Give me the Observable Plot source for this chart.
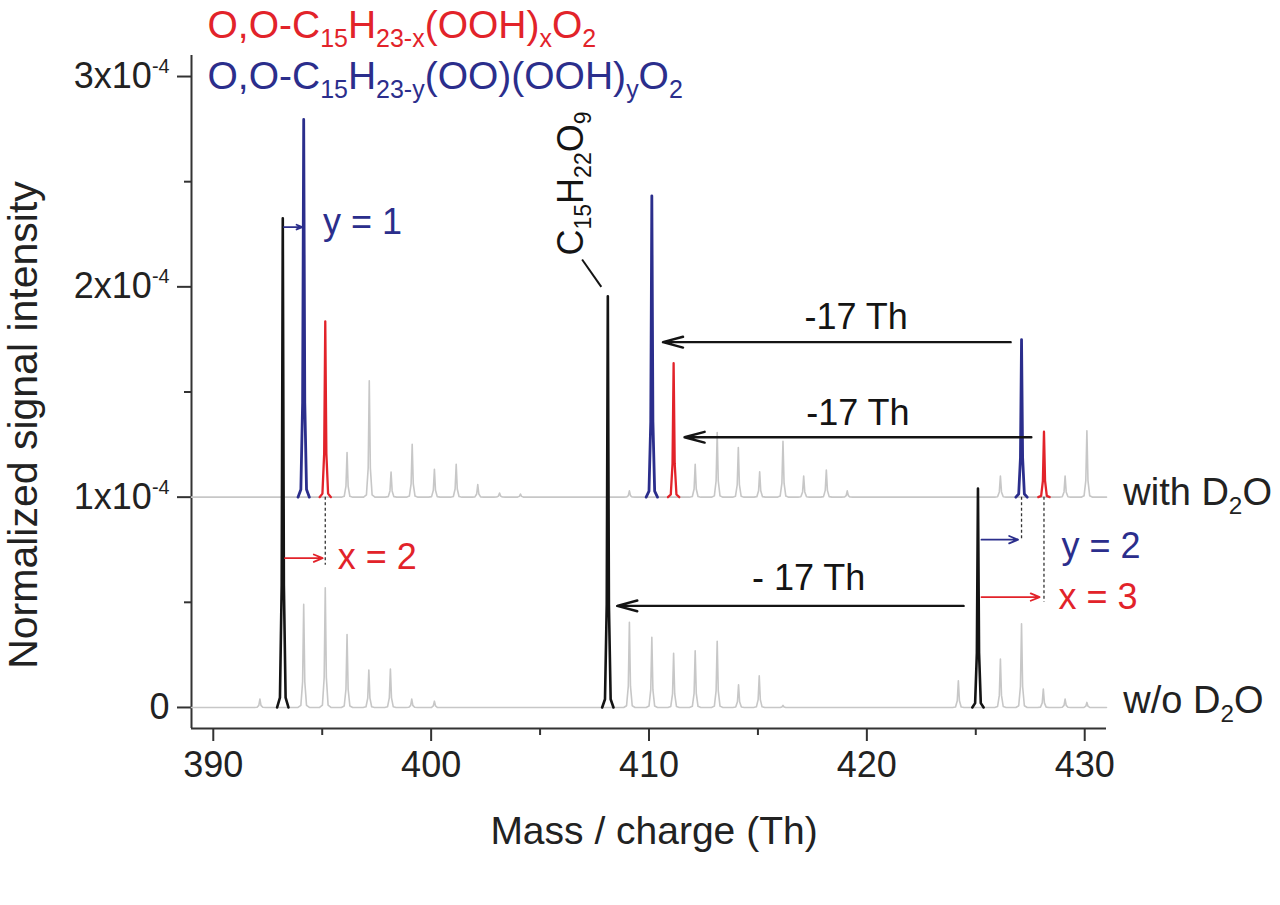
<!DOCTYPE html>
<html>
<head>
<meta charset="utf-8">
<script src="https://cdn.jsdelivr.net/npm/d3@7"></script>
<script src="https://cdn.jsdelivr.net/npm/@observablehq/plot@0.6"></script>
<style>
  body { margin: 0; background: #fff; }
  #chart svg { display: block; }
</style>
</head>
<body>
<div id="chart"></div>
<script>
// ---------- data (intensities in units of 1e-4) ----------
const UNIT = 1e-4;
const xMin = 389, xMax = 431;
const yMin = -0.1, yMax = 3.1;
const xMajor = [390, 400, 410, 420, 430];
const xMinor = [395, 405, 415, 425];
const yMajor = [0, 1, 2, 3];
const yMinor = [0.5, 1.5, 2.5];

const woBase = 0;     // "w/o D2O" trace baseline
const withBase = 1;   // "with D2O" trace baseline (offset 1x10^-4)

// grey peaks, w/o D2O (m/z, height above baseline)
const woGrayMass   = [392.14, 394.15, 395.14, 396.14, 397.14, 398.13, 399.11, 400.15, 409.10, 410.13, 411.13, 412.12, 413.13, 414.11, 415.06, 416.15, 424.20, 426.13, 427.10, 428.10, 429.10, 430.10];
const woGrayHeight = [0.04,   0.49,   0.569,  0.347,  0.178,  0.183,  0.04,   0.03,   0.405,  0.334,  0.258,  0.27,   0.315,  0.108,  0.15,   0.01,   0.127,  0.23,   0.398,  0.088,  0.04,   0.024];

// grey peaks, with D2O
const withGrayMass   = [396.14, 397.16, 398.16, 399.13, 400.15, 401.15, 402.14, 403.14, 404.10, 409.10, 412.12, 413.13, 414.10, 415.08, 416.15, 417.10, 418.14, 419.10, 426.13, 429.10, 430.10];
const withGrayHeight = [0.212,  0.553,  0.119,  0.251,  0.132,  0.156,  0.06,   0.02,   0.015,  0.03,   0.156,  0.307,  0.236,  0.12,   0.266,  0.10,   0.129,  0.03,   0.10,   0.10,   0.316];

// highlighted peaks
const blackMass   = [393.19, 408.11, 425.10];   // w/o D2O
const blackHeight = [2.326, 1.955, 1.041];
const blueMass    = [394.15, 410.13, 427.10];   // with D2O
const blueHeight  = [1.796, 1.433, 0.749];
const redMass     = [395.14, 411.13, 428.13];   // with D2O
const redHeight   = [0.836, 0.637, 0.311];

// annotations
const shift17 = [
  {x1: 426.60, x2: 410.64, y: 1.737, label: "-17 Th",  lx: 419.51, ly: 1.856},
  {x1: 427.55, x2: 411.63, y: 1.285, label: "-17 Th",  lx: 419.59, ly: 1.398},
  {x1: 424.44, x2: 408.54, y: 0.483, label: "- 17 Th", lx: 417.33, ly: 0.611}
];
const shiftXY = [
  {x1: 393.24, x2: 394.08, y: 2.284, label: "y = 1", lx: 395.04, ly: 2.304, c: "blue"},
  {x1: 393.29, x2: 395.02, y: 0.710, label: "x = 2", lx: 395.71, ly: 0.715, c: "red"},
  {x1: 425.26, x2: 426.94, y: 0.798, label: "y = 2", lx: 428.93, ly: 0.767, c: "blue"},
  {x1: 425.26, x2: 427.93, y: 0.525, label: "x = 3", lx: 428.80, ly: 0.521, c: "red"}
];
const dashed = [
  {x: 395.14, y1: 1.0, y2: 0.676},
  {x: 427.10, y1: 1.0, y2: 0.790},
  {x: 428.13, y1: 1.0, y2: 0.500}
];
const compound = {label: "C_{15}H_{22}O_{9}", x: 406.42, y: 2.149, lx1: 406.93, ly1: 2.13, lx2: 407.81, ly2: 2.0};
const traceLabels = [
  {label: "with D_{2}O", x: 431.77, y: 1.02},
  {label: "w/o D_{2}O",  x: 431.77, y: 0.03}
];
const legendLines = ["O,O-C_{15}H_{23-x}(OOH)_{x}O_{2}", "O,O-C_{15}H_{23-y}(OO)(OOH)_{y}O_{2}"];

// ---------- styling ----------
const COL = {blue: "#2b2e8c", red: "#e2232a", black: "#141414", gray: "#c7c7c7", axis: "#333"};
const FONT = "'Liberation Sans', Arial, Helvetica, sans-serif";
// peak drawing template (shape only)
const shapeDx = [-0.26, -0.13, -0.05, 0, 0.05, 0.13, 0.26];
const shapeF  = [0, 0.02, 0.25, 1, 0.25, 0.02, 0];

function peakPts(m, h, base, id) {
  return shapeDx.map((d, k) => ({x: m + d, y: (base + h * shapeF[k]) * UNIT, id}));
}
function trace(mass, height, base, id) {
  const pts = [{x: xMin, y: base * UNIT, id}];
  mass.forEach((m, i) => pts.push(...peakPts(m, height[i], base, id)));
  pts.push({x: xMax, y: base * UNIT, id});
  return pts;
}
function peaks(mass, height, base, tag) {
  return mass.flatMap((m, i) => peakPts(m, height[i], base, tag + i));
}

const grayData = [...trace(woGrayMass, woGrayHeight, woBase, "wo"), ...trace(withGrayMass, withGrayHeight, withBase, "with")];
const blackData = peaks(blackMass, blackHeight, woBase, "k");
const blueData = peaks(blueMass, blueHeight, withBase, "b");
const redData = peaks(redMass, redHeight, withBase, "r");

const yFmt = d => {
  const n = Math.round(d / UNIT);
  return n === 0 ? "0" : `${n}x10^{-4}`;
};

const chart = Plot.plot({
  width: 1280,
  height: 905,
  marginTop: 55,
  marginBottom: 177,
  marginLeft: 191,
  marginRight: 174,
  x: {domain: [xMin, xMax]},
  y: {domain: [yMin * UNIT, yMax * UNIT]},
  style: {fontFamily: FONT, fontSize: "36px", color: "#222", background: "#fff"},
  marks: [
    // axes
    Plot.axisX({ticks: xMajor, tickSize: 13, tickPadding: 10, label: null, fontSize: 36, strokeWidth: 2, stroke: COL.axis}),
    Plot.axisX({ticks: xMinor, tickSize: 7, tickFormat: () => "", label: null, strokeWidth: 2, stroke: COL.axis}),
    Plot.axisY({ticks: yMajor.map(v => v * UNIT), tickSize: 14, tickPadding: 8, tickFormat: yFmt, label: null, fontSize: 36, strokeWidth: 2, stroke: COL.axis}),
    Plot.axisY({ticks: yMinor.map(v => v * UNIT), tickSize: 7, tickFormat: () => "", label: null, strokeWidth: 2, stroke: COL.axis}),
    Plot.ruleX([xMin], {stroke: COL.axis, strokeWidth: 2}),
    Plot.ruleY([yMin * UNIT], {stroke: COL.axis, strokeWidth: 2}),
    // axis titles
    Plot.text(["Mass / charge (Th)"], {frameAnchor: "bottom", lineAnchor: "top", dy: 88, dx: 5, fontSize: 39, fill: "#222"}),
    Plot.text(["Normalized signal intensity"], {frameAnchor: "left", rotate: -90, textAnchor: "middle", lineAnchor: "top", dx: -184, dy: 33, fontSize: 41, fill: "#222"}),
    // spectra
    Plot.line(grayData, {x: "x", y: "y", z: "id", stroke: COL.gray, strokeWidth: 1.6}),
    Plot.line(blackData, {x: "x", y: "y", z: "id", stroke: COL.black, strokeWidth: 2.6}),
    Plot.line(blueData, {x: "x", y: "y", z: "id", stroke: COL.blue, strokeWidth: 2.8}),
    Plot.line(redData, {x: "x", y: "y", z: "id", stroke: COL.red, strokeWidth: 2.3}),
    // dashed guides
    Plot.ruleX(dashed, {x: "x", y1: d => d.y1 * UNIT, y2: d => d.y2 * UNIT, stroke: "#333", strokeWidth: 1.3, strokeDasharray: "3,2.5"}),
    // -17 Th arrows
    Plot.arrow(shift17, {x1: "x1", x2: "x2", y1: d => d.y * UNIT, y2: d => d.y * UNIT, stroke: COL.black, strokeWidth: 2.4, headLength: 13, headAngle: 30}),
    Plot.text(shift17, {x: "lx", y: d => d.ly * UNIT, text: "label", fontSize: 36, fill: COL.black}),
    // x / y shift arrows
    Plot.arrow(shiftXY, {x1: "x1", x2: "x2", y1: d => d.y * UNIT, y2: d => d.y * UNIT, stroke: d => COL[d.c], strokeWidth: 1.8, headLength: 8, headAngle: 45}),
    Plot.text(shiftXY, {x: "lx", y: d => d.ly * UNIT, text: "label", fill: d => COL[d.c], textAnchor: "start", fontSize: 36}),
    // compound label
    Plot.text([compound], {x: "x", y: d => d.y * UNIT, text: "label", rotate: -90, textAnchor: "start", fontSize: 36, fill: COL.black}),
    Plot.link([compound], {x1: "lx1", y1: d => d.ly1 * UNIT, x2: "lx2", y2: d => d.ly2 * UNIT, stroke: COL.black, strokeWidth: 2}),
    // trace labels
    Plot.text(traceLabels, {x: "x", y: d => d.y * UNIT, text: "label", textAnchor: "start", fontSize: 38, fill: "#222"}),
    // legend
    Plot.text([legendLines[0]], {frameAnchor: "top-left", textAnchor: "start", lineAnchor: "top", dx: 16, dy: -45, fontSize: 39, fill: COL.red}),
    Plot.text([legendLines[1]], {frameAnchor: "top-left", textAnchor: "start", lineAnchor: "top", dx: 16, dy: 6, fontSize: 39, fill: COL.blue})
  ]
});

document.getElementById("chart").appendChild(chart);

// convert _{..} / ^{..} markup into sub/superscript tspans
function richify(svg) {
  svg.querySelectorAll("text").forEach(t => {
    const s = t.textContent;
    if (!/[_^]\{/.test(s)) return;
    const F = parseFloat(getComputedStyle(t).fontSize);
    const parts = [];
    const re = /([_^])\{([^}]*)\}/g;
    let last = 0, m;
    while ((m = re.exec(s))) {
      if (m.index > last) parts.push(["n", s.slice(last, m.index)]);
      parts.push([m[1], m[2]]);
      last = re.lastIndex;
    }
    if (last < s.length) parts.push(["n", s.slice(last)]);
    while (t.firstChild) t.removeChild(t.firstChild);
    let shift = 0;
    for (const [k, str] of parts) {
      const ts = document.createElementNS("http://www.w3.org/2000/svg", "tspan");
      const target = k === "_" ? 0.23 * F : k === "^" ? -0.42 * F : 0;
      const dy = target - shift;
      if (dy) ts.setAttribute("dy", dy.toFixed(2));
      shift = target;
      if (k !== "n") ts.setAttribute("font-size", ((k === "_" ? 0.64 : 0.55) * F).toFixed(2));
      ts.textContent = str;
      t.appendChild(ts);
    }
  });
}
richify(chart);
</script>
</body>
</html>
